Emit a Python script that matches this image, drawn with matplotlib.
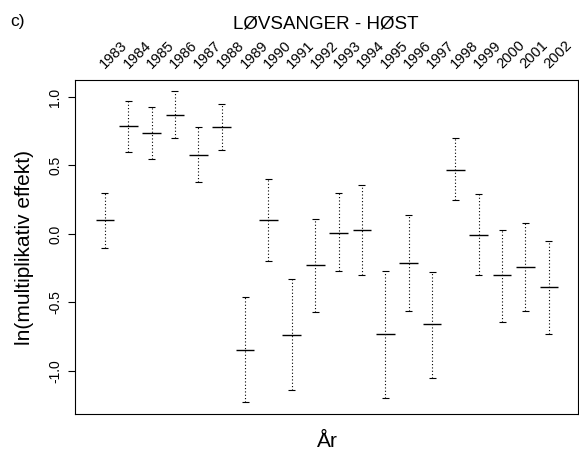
import matplotlib
matplotlib.use("Agg")
import matplotlib.pyplot as plt
import matplotlib.transforms as mtransforms
import numpy as np

plt.rcParams["font.family"] = ["Liberation Sans", "DejaVu Sans"]

years = [1983, 1984, 1985, 1986, 1987, 1988, 1989, 1990, 1991, 1992,
         1993, 1994, 1995, 1996, 1997, 1998, 1999, 2000, 2001, 2002]
estimate = [0.10, 0.79, 0.74, 0.87, 0.58, 0.78, -0.85, 0.10, -0.74, -0.23,
            0.01, 0.03, -0.73, -0.21, -0.66, 0.47, -0.01, -0.30, -0.24, -0.39]
upper = [0.30, 0.97, 0.93, 1.04, 0.78, 0.95, -0.46, 0.40, -0.33, 0.11,
         0.30, 0.36, -0.27, 0.14, -0.28, 0.70, 0.29, 0.03, 0.08, -0.05]
lower = [-0.10, 0.60, 0.55, 0.70, 0.38, 0.61, -1.23, -0.20, -1.14, -0.57,
         -0.27, -0.30, -1.20, -0.56, -1.05, 0.25, -0.30, -0.64, -0.56, -0.73]
yticks = [-1.0, -0.5, 0.0, 0.5, 1.0]
ytick_labels = ["-1.0", "-0.5", "0.0", "0.5", "1.0"]

fig = plt.figure(figsize=(5.79, 4.55), dpi=100)
ax = fig.add_axes([0.1295, 0.0901, 0.8685, 0.7341])

x = np.arange(1, len(years) + 1)
ax.vlines(x, lower, upper, colors="black", linestyles=(0, (1, 2)), lw=0.8)
ax.hlines(upper, x - 0.15, x + 0.15, colors="black", lw=0.8)
ax.hlines(lower, x - 0.15, x + 0.15, colors="black", lw=0.8)
ax.hlines(estimate, x - 0.4, x + 0.4, colors="black", lw=1.0)

ax.set_xlim(-0.28, 21.24)
ax.set_ylim(-1.314, 1.124)
ax.set_xticks([])
ax.set_yticks(yticks)
ax.set_yticklabels(ytick_labels, rotation=90, va="center", fontsize=10)
ax.tick_params(axis="y", direction="out", length=5, width=0.8, pad=4)
for s in ax.spines.values():
    s.set_linewidth(0.8)

# year labels sit diagonally above the top axis, starting at each position
trans = mtransforms.blended_transform_factory(ax.transData, ax.transAxes)
for xi, yr in zip(x, years):
    ax.text(xi + 0.385, 1.075, str(yr), transform=trans, rotation=45,
            ha="center", va="center", fontsize=10.5)

fig.text(0.563, 0.948, "LØVSANGER - HØST", ha="center", va="center", fontsize=13.5)
fig.text(0.03, 0.952, "c)", ha="center", va="center", fontsize=12.5)
fig.text(0.042, 0.455, "ln(multiplikativ effekt)", rotation=90,
         ha="center", va="center", fontsize=15)
fig.text(0.565, 0.03, "År", ha="center", va="center", fontsize=15)

fig.savefig("out.png", dpi=100)
